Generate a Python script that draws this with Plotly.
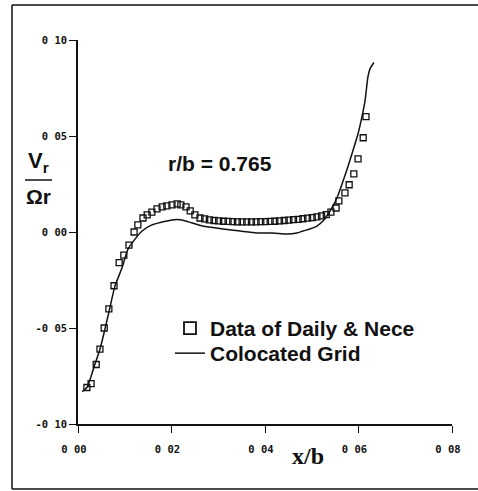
import plotly.graph_objects as go

# Experimental data (open squares)
data_x = [0.0019, 0.0028, 0.0039, 0.0047, 0.0056, 0.0066, 0.0077, 0.0088, 0.0098, 0.0109,
          0.0120, 0.0128, 0.0139, 0.0148, 0.0158, 0.0169, 0.0180, 0.0190, 0.0201, 0.0212,
          0.0220, 0.0231, 0.0240, 0.0250, 0.0261,
          0.0271, 0.0281, 0.0291, 0.0301, 0.0311, 0.0321, 0.0331, 0.0341, 0.0351, 0.0361,
          0.0371, 0.0381, 0.0391, 0.0401, 0.0411, 0.0421, 0.0431, 0.0441, 0.0451, 0.0461,
          0.0471, 0.0481, 0.0491, 0.0501, 0.0511, 0.0521, 0.0531,
          0.0541, 0.0552, 0.0558, 0.0571, 0.0580, 0.0590, 0.0599, 0.0610, 0.0616]
data_y = [-0.0810, -0.0790, -0.0690, -0.0610, -0.0500, -0.0400, -0.0280, -0.0160, -0.0120, -0.0068,
          0.0000, 0.0037, 0.0073, 0.0089, 0.0104, 0.0120, 0.0131, 0.0136, 0.0141, 0.0146,
          0.0141, 0.0131, 0.0110, 0.0089, 0.0073,
          0.0068, 0.0063, 0.0060, 0.0058, 0.0056, 0.0055, 0.0054, 0.0053, 0.0053, 0.0053,
          0.0053, 0.0053, 0.0054, 0.0054, 0.0055, 0.0056, 0.0058, 0.0060, 0.0062, 0.0064,
          0.0066, 0.0069, 0.0072, 0.0075, 0.0079, 0.0084, 0.0090,
          0.0104, 0.0125, 0.0162, 0.0204, 0.0246, 0.0303, 0.0381, 0.0491, 0.0601]

# Computed solution (solid line)
grid_x = [0.0009, 0.0019, 0.0036, 0.0047, 0.0058, 0.0068, 0.0079, 0.0094, 0.0107, 0.0122,
          0.0137, 0.0158, 0.0180, 0.0201, 0.0222, 0.0244, 0.0267, 0.0310, 0.0347, 0.0383,
          0.0417, 0.0447, 0.0468, 0.0481, 0.0496, 0.0511, 0.0524, 0.0543, 0.0554, 0.0567,
          0.0578, 0.0588, 0.0599, 0.0607, 0.0614, 0.0620, 0.0625, 0.0633]
grid_y = [-0.0831, -0.0810, -0.0690, -0.0611, -0.0502, -0.0397, -0.0282, -0.0188, -0.0089, -0.0037,
          0.0005, 0.0037, 0.0052, 0.0063, 0.0063, 0.0047, 0.0031, 0.0016, 0.0005, -0.0005,
          -0.0005, -0.0010, -0.0005, 0.0005, 0.0016, 0.0031, 0.0057, 0.0125, 0.0178, 0.0266,
          0.0345, 0.0423, 0.0512, 0.0596, 0.0684, 0.0805, 0.0852, 0.0883]

x_ticks = [0.0, 0.02, 0.04, 0.06, 0.08]
x_tick_text = ["0 00", "0 02", "0 04", "0 06", "0 08"]
y_ticks = [-0.10, -0.05, 0.0, 0.05, 0.10]
y_tick_text = ["-0 10", "-0 05", "0 00", "0 05", "0 10"]

W, H = 478, 491
L, R, T, B = 78, 26, 40, 67
pw, ph = W - L - R, H - T - B


def px(xp):
    return (xp - L) / pw


def py(yp):
    return (H - B - yp) / ph


INK = "#111"

fig = go.Figure()
fig.add_trace(go.Scatter(
    x=data_x, y=data_y, mode="markers", name="Data of Daily & Nece", showlegend=False,
    marker=dict(symbol="square-open", size=6, color=INK, line=dict(width=1.3, color=INK)),
))
fig.add_trace(go.Scatter(
    x=grid_x, y=grid_y, mode="lines", name="Colocated Grid", showlegend=False,
    line=dict(color=INK, width=1.5, shape="spline", smoothing=0.6),
))
# legend entries (no data of their own)
fig.add_trace(go.Scatter(
    x=[None], y=[None], mode="markers", name="Data of Daily & Nece", legend="legend",
    marker=dict(symbol="square-open", size=12, color=INK, line=dict(width=1.8, color=INK)),
))
fig.add_trace(go.Scatter(
    x=[None], y=[None], mode="lines", name="Colocated Grid", legend="legend2",
    line=dict(color=INK, width=1.5),
))

tickfont = dict(family="DejaVu Sans Mono", size=10.5, color=INK, weight="bold")
fig.update_xaxes(
    range=[0, 0.08], tickvals=x_ticks, ticktext=x_tick_text, showgrid=False, zeroline=False,
    showline=True, linecolor=INK, linewidth=1.5, ticks="outside", ticklen=7, tickwidth=1.3,
    tickcolor=INK, tickfont=tickfont, ticklabelstandoff=8, ticklabelshift=-4,
)
fig.update_yaxes(
    range=[-0.10, 0.10], tickvals=y_ticks, ticktext=y_tick_text, showgrid=False, zeroline=False,
    showline=True, linecolor=INK, linewidth=1.5, ticks="outside", ticklen=7, tickwidth=1.3,
    tickcolor=INK, tickfont=tickfont,
)

bold = dict(family="Liberation Sans", size=21, color=INK, weight="bold")
ann = [
    dict(x=px(220), y=py(163), text="r/b = 0.765", font=bold),
    dict(x=px(38), y=py(162), text="V<sub>r</sub>", font=dict(family="Liberation Sans", size=22, color=INK, weight="bold")),
    dict(x=px(38), y=py(196), text="Ωr", font=bold),
    dict(x=px(308), y=py(456), text="x/b", font=dict(family="Liberation Serif", size=24, color=INK, weight="bold")),
]
for a in ann:
    a.update(xref="paper", yref="paper", showarrow=False, xanchor="center", yanchor="middle")

frame = dict(color=INK, width=1.5)
shapes = [
    dict(type="line", xref="paper", yref="paper", x0=px(25), x1=px(52), y0=py(180), y1=py(180), line=dict(color=INK, width=1.5)),
    dict(type="line", xref="paper", yref="paper", x0=px(12), x1=px(478), y0=py(5), y1=py(5), line=frame),
    dict(type="line", xref="paper", yref="paper", x0=px(12), x1=px(478), y0=py(489), y1=py(489), line=frame),
    dict(type="line", xref="paper", yref="paper", x0=px(12), x1=px(12), y0=py(5), y1=py(489), line=frame),
]

leg_common = dict(xanchor="left", yanchor="top", bgcolor="rgba(0,0,0,0)", font=bold)
fig.update_layout(
    width=W, height=H, margin=dict(l=L, r=R, t=T, b=B, pad=0),
    paper_bgcolor="white", plot_bgcolor="white",
    annotations=ann, shapes=shapes,
    legend=dict(x=px(170), y=py(308), **leg_common),
    legend2=dict(x=px(170), y=py(333), **leg_common),
    showlegend=True,
)

fig.write_html(
    "out.html",
    config={"displayModeBar": False},
    post_script=(
        "document.documentElement.style.overflow='hidden';"
        "document.documentElement.style.margin='0px';"
        "document.body.style.margin='0px';"
        "document.body.style.padding='0px';"
        "document.body.style.overflow='hidden';"
    ),
)
